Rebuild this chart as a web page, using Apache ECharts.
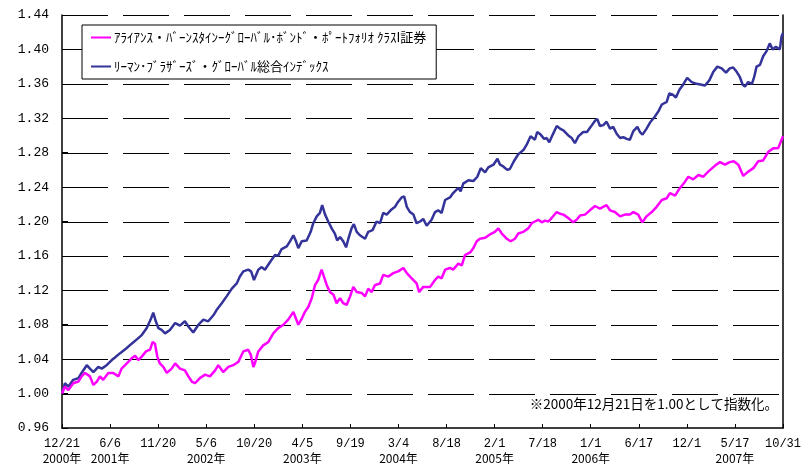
<!DOCTYPE html>
<html>
<head>
<meta charset="utf-8">
<script src="https://cdn.jsdelivr.net/npm/echarts@6/dist/echarts.min.js"></script>
<style>
  html, body { margin: 0; padding: 0; background: #fff; }
  #chart { width: 807px; height: 466px; }
</style>
</head>
<body>
<div id="chart"></div>
<script>
// Index level, 2000-12-21 = 1.00. X values are days elapsed since that date.
const baseDate = Date.UTC(2000, 11, 21);
const tickStepDays = 167;
const lastDay = 2505;

const seriesNames = [
  'ｱﾗｲｱﾝｽ・ﾊﾞｰﾝｽﾀｲﾝｰｸﾞﾛｰﾊﾞﾙ･ﾎﾞﾝﾄﾞ・ﾎﾟｰﾄﾌｫﾘｵ ｸﾗｽI証券',
  'ﾘｰﾏﾝ･ﾌﾞﾗｻﾞｰｽﾞ・ｸﾞﾛｰﾊﾞﾙ総合ｲﾝﾃﾞｯｸｽ'
];

const yTicks = { min: 0.96, max: 1.44, step: 0.04 };

// Fund (class I)
const fundDays = [0,10,22,39,57,68,80,97,109,121,132,143,161,178,196,207,225,242,254,265,277,292,306,315,323,331,340,352,364,381,393,410,427,439,451,462,479,497,514,532,543,560,578,595,613,630,647,656,665,670,682,699,717,734,751,769,786,804,813,821,833,844,856,868,879,890,902,910,920,931,943,954,966,977,989,1001,1012,1024,1041,1053,1064,1076,1087,1105,1116,1134,1151,1168,1186,1198,1215,1232,1241,1255,1261,1279,1296,1307,1319,1331,1348,1359,1377,1389,1400,1418,1429,1441,1452,1470,1487,1504,1516,1528,1545,1559,1574,1585,1603,1620,1632,1643,1655,1667,1678,1690,1701,1719,1730,1742,1759,1776,1788,1800,1817,1834,1852,1869,1892,1904,1921,1939,1956,1973,1985,2002,2016,2031,2049,2066,2084,2101,2112,2130,2147,2164,2176,2193,2211,2228,2245,2269,2286,2303,2320,2334,2350,2367,2384,2402,2419,2436,2454,2471,2488,2500,2505];
const fundValues = [1.000,1.008,1.004,1.012,1.014,1.020,1.024,1.020,1.010,1.014,1.020,1.016,1.024,1.024,1.020,1.029,1.035,1.041,1.044,1.039,1.043,1.049,1.051,1.060,1.058,1.043,1.035,1.031,1.024,1.029,1.035,1.029,1.027,1.020,1.014,1.012,1.018,1.022,1.020,1.027,1.033,1.025,1.031,1.033,1.037,1.049,1.051,1.045,1.031,1.035,1.049,1.056,1.060,1.070,1.076,1.080,1.086,1.095,1.087,1.080,1.087,1.095,1.101,1.111,1.126,1.132,1.144,1.136,1.126,1.118,1.115,1.105,1.111,1.105,1.103,1.113,1.124,1.118,1.117,1.113,1.122,1.118,1.126,1.128,1.138,1.136,1.140,1.142,1.146,1.140,1.134,1.128,1.118,1.124,1.126,1.124,1.132,1.136,1.134,1.144,1.146,1.144,1.151,1.149,1.161,1.164,1.169,1.177,1.180,1.181,1.185,1.188,1.192,1.186,1.180,1.177,1.180,1.186,1.188,1.192,1.198,1.200,1.202,1.199,1.201,1.200,1.204,1.211,1.209,1.208,1.204,1.199,1.202,1.207,1.208,1.213,1.218,1.215,1.219,1.213,1.211,1.206,1.208,1.208,1.211,1.208,1.199,1.206,1.211,1.217,1.225,1.227,1.233,1.230,1.239,1.246,1.252,1.249,1.254,1.252,1.258,1.265,1.269,1.266,1.269,1.270,1.266,1.253,1.258,1.262,1.270,1.271,1.281,1.285,1.285,1.295,1.299];

// Global aggregate index
const indexDays = [0,10,22,39,57,68,86,97,109,126,138,155,173,184,202,225,242,260,277,294,308,317,326,335,346,358,375,393,410,427,439,456,474,491,508,526,537,555,572,590,607,618,630,647,657,667,682,694,705,723,740,751,763,781,792,804,813,821,833,850,864,873,885,896,904,914,925,937,948,956,966,977,987,995,1006,1014,1024,1035,1053,1064,1079,1093,1105,1116,1128,1145,1157,1168,1180,1189,1198,1209,1221,1232,1244,1255,1267,1284,1296,1307,1319,1331,1348,1359,1377,1385,1394,1412,1429,1443,1455,1470,1481,1499,1513,1522,1533,1547,1556,1570,1585,1603,1614,1628,1643,1651,1663,1675,1684,1693,1705,1719,1730,1742,1759,1771,1782,1794,1811,1824,1837,1852,1860,1869,1881,1892,1904,1915,1927,1939,1950,1962,1973,1985,1999,2008,2017,2031,2043,2060,2072,2084,2101,2110,2124,2133,2145,2158,2172,2188,2205,2222,2234,2249,2263,2277,2292,2307,2320,2332,2344,2355,2365,2373,2384,2397,2405,2413,2425,2436,2448,2459,2469,2480,2494,2500,2505];
const indexValues = [1.000,1.012,1.008,1.016,1.018,1.024,1.033,1.029,1.025,1.031,1.029,1.033,1.039,1.042,1.047,1.053,1.058,1.063,1.068,1.076,1.086,1.094,1.084,1.076,1.074,1.070,1.074,1.082,1.079,1.084,1.078,1.071,1.080,1.086,1.084,1.091,1.097,1.105,1.113,1.122,1.128,1.136,1.142,1.144,1.142,1.132,1.144,1.147,1.144,1.153,1.161,1.160,1.168,1.171,1.177,1.184,1.177,1.169,1.177,1.178,1.188,1.198,1.206,1.210,1.219,1.208,1.200,1.192,1.186,1.178,1.182,1.177,1.170,1.180,1.192,1.197,1.188,1.184,1.180,1.188,1.190,1.200,1.198,1.210,1.208,1.214,1.217,1.223,1.228,1.229,1.217,1.211,1.208,1.198,1.200,1.203,1.195,1.202,1.211,1.213,1.210,1.225,1.228,1.233,1.239,1.235,1.244,1.248,1.247,1.252,1.262,1.257,1.263,1.266,1.273,1.266,1.264,1.260,1.261,1.270,1.278,1.283,1.289,1.299,1.295,1.304,1.301,1.296,1.297,1.292,1.301,1.311,1.308,1.306,1.300,1.297,1.291,1.299,1.304,1.304,1.310,1.317,1.319,1.311,1.312,1.316,1.308,1.310,1.302,1.297,1.298,1.296,1.295,1.305,1.310,1.304,1.301,1.308,1.315,1.322,1.328,1.336,1.339,1.349,1.347,1.344,1.353,1.359,1.367,1.362,1.360,1.359,1.358,1.364,1.374,1.380,1.378,1.373,1.378,1.379,1.374,1.368,1.359,1.357,1.362,1.360,1.368,1.380,1.382,1.392,1.398,1.407,1.400,1.403,1.400,1.415,1.419];

const noteText = '※2000年12月21日を1.00として指数化。';

const pairs = (xs, ys) => xs.map((x, i) => [x, ys[i]]);

// Horizontal reference levels above the baseline axis
const gridLevels = [];
for (let k = 1; yTicks.min + k * yTicks.step <= yTicks.max + 1e-9; k++) {
  gridLevels.push(+(yTicks.min + k * yTicks.step).toFixed(2));
}

function dayToDate(d) {
  return new Date(baseDate + d * 86400000);
}

function xLabel(v) {
  const dt = dayToDate(v);
  const md = (dt.getUTCMonth() + 1) + '/' + dt.getUTCDate();
  let showYear = v === 0;
  if (!showYear) {
    const prev = dayToDate(v - tickStepDays);
    showYear = prev.getUTCFullYear() !== dt.getUTCFullYear();
  }
  return '{d|' + md + '}\n{y|' + (showYear ? dt.getUTCFullYear() + '年' : ' ') + '}';
}

// Long-dash horizontal rule across the full plot width at one level
function renderLevel(params, api) {
  const v = api.value(0);
  const p0 = api.coord([0, v]);
  const p1 = api.coord([lastDay, v]);
  return {
    type: 'line',
    shape: { x1: p0[0], y1: Math.round(p0[1]) + 0.5, x2: p1[0], y2: Math.round(p1[1]) + 0.5 },
    style: { stroke: '#000', lineWidth: 1, lineDash: [46, 15], lineCap: 'butt', fill: null }
  };
}

const labelFont = '"Liberation Mono", "DejaVu Sans Mono", monospace';
const jpFont = '"Noto Sans CJK JP", sans-serif';

const chart = echarts.init(document.getElementById('chart'), null, { renderer: 'canvas' });
chart.setOption({
  animation: false,
  backgroundColor: '#fff',
  grid: { left: 62, right: 24, top: 15, bottom: 38, containLabel: false },
  legend: {
    orient: 'vertical',
    left: 82,
    top: 25,
    padding: [6, 10, 6, 9],
    itemGap: 16,
    itemWidth: 20,
    itemHeight: 2,
    icon: 'rect',
    backgroundColor: '#fff',
    borderColor: '#000',
    borderWidth: 1,
    borderRadius: 0,
    data: [seriesNames[0], seriesNames[1]],
    textStyle: { fontFamily: jpFont, fontSize: 13, color: '#000', width: 320, padding: [0, 0, 0, -2] }
  },
  xAxis: {
    type: 'value',
    min: 0,
    max: lastDay,
    interval: tickStepDays,
    axisLine: { show: true, onZero: false, lineStyle: { color: '#000', width: 1.5 } },
    axisTick: { show: true, inside: true, length: 4, lineStyle: { color: '#000' } },
    splitLine: { show: false },
    axisLabel: {
      show: true,
      showMinLabel: true,
      showMaxLabel: true,
      margin: 9,
      formatter: xLabel,
      rich: {
        d: { fontFamily: labelFont, fontSize: 12, color: '#000', lineHeight: 14 },
        y: { fontFamily: jpFont, fontSize: 12, color: '#000', lineHeight: 14 }
      }
    }
  },
  yAxis: [{
    type: 'value',
    min: yTicks.min,
    max: yTicks.max,
    interval: yTicks.step,
    axisLine: { show: true, onZero: false, lineStyle: { color: '#000', width: 1.5 } },
    axisTick: { show: true, inside: true, length: 6, lineStyle: { color: '#000' } },
    axisLabel: {
      margin: 13,
      fontFamily: labelFont,
      fontSize: 13,
      color: '#000',
      formatter: v => v.toFixed(2)
    },
    splitLine: { show: false }
  }, {
    type: 'value',
    position: 'right',
    min: yTicks.min,
    max: yTicks.max,
    interval: yTicks.step,
    axisLine: { show: true, onZero: false, lineStyle: { color: '#000', width: 1.5 } },
    axisTick: { show: false },
    axisLabel: { show: false },
    splitLine: { show: false }
  }],
  graphic: [{
    type: 'text',
    right: 29,
    top: 397,
    style: { text: noteText, font: '13.5px "Noto Sans CJK JP", sans-serif', fill: '#000' }
  }],
  series: [{
    name: 'levels',
    type: 'custom',
    silent: true,
    z: 1,
    renderItem: renderLevel,
    encode: { x: -1, y: 0 },
    data: gridLevels.map(v => [v])
  }, {
    name: seriesNames[1],
    type: 'line',
    data: pairs(indexDays, indexValues),
    showSymbol: false,
    symbol: 'none',
    lineStyle: { color: '#333399', width: 2.5 },
    itemStyle: { color: '#333399' },
    z: 2
  }, {
    name: seriesNames[0],
    type: 'line',
    data: pairs(fundDays, fundValues),
    showSymbol: false,
    symbol: 'none',
    lineStyle: { color: '#ff00ff', width: 2.5 },
    itemStyle: { color: '#ff00ff' },
    z: 3
  }]
});
</script>
</body>
</html>
